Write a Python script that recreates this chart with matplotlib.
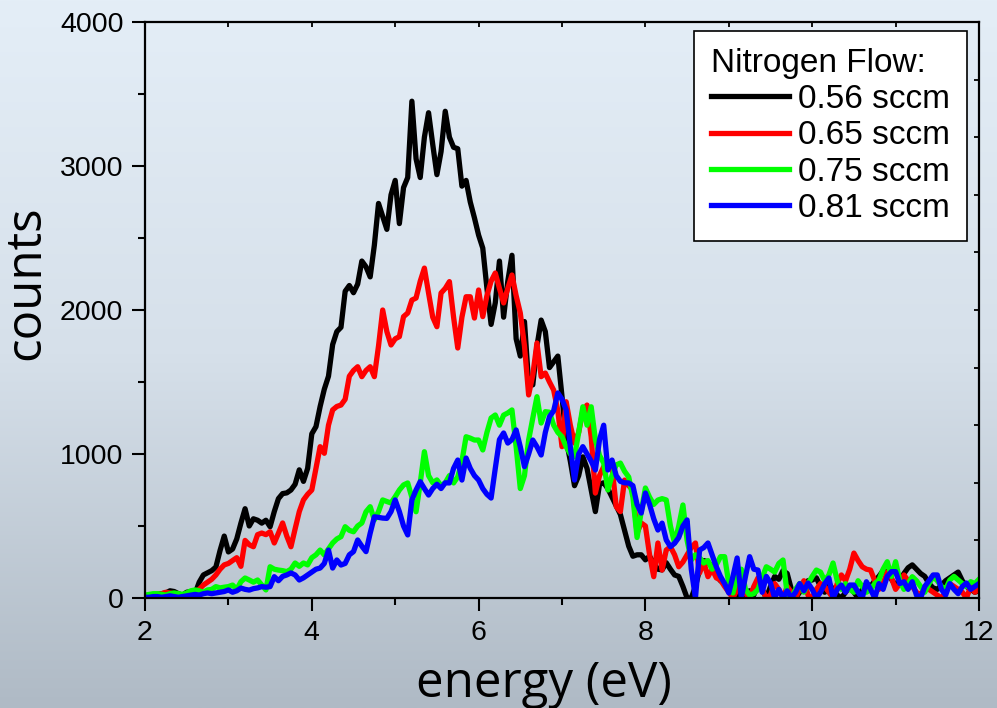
import numpy as np
import matplotlib
matplotlib.use("Agg")
import matplotlib.pyplot as plt
from matplotlib.colors import LinearSegmentedColormap

# energy grid of the spectrum (eV)
energy = np.linspace(2, 12, 201)

# counts, one value per 0.05 eV
counts_056 = [
    10, 15, 20, 25, 30, 35, 50, 45, 30, 20,
    40, 45, 30, 110, 160, 175, 190, 215, 330, 430,
    320, 340, 410, 520, 620, 500, 550, 540, 520, 540,
    495, 600, 690, 725, 730, 750, 790, 890, 810, 900,
    1140, 1190, 1330, 1450, 1540, 1760, 1850, 1880, 2130, 2170,
    2120, 2180, 2340, 2300, 2230, 2450, 2740, 2650, 2560, 2800,
    2900, 2600, 2850, 2920, 3450, 3050, 2920, 3200, 3370, 3150,
    2940, 3100, 3380, 3200, 3130, 3120, 2860, 2900, 2750, 2640,
    2520, 2430, 2150, 1900, 2050, 2340, 1950, 2200, 2380, 1800,
    1680, 1920, 1490, 1480, 1750, 1930, 1850, 1600, 1640, 1680,
    1400, 1100, 950, 780, 850, 980, 900, 750, 600, 790,
    800, 760, 700, 640, 580, 470, 360, 290, 300, 300,
    265, 290, 240, 200, 195, 245, 200, 160, 150, 80,
    0, 0, 80, 200, 260, 250, 215, 160, 120, 100,
    80, 40, 20, 60, 0, 50, 20, 100, 60, 0,
    80, 150, 130, 190, 170, 60, 0, 40, 80, 120,
    125, 140, 80, 40, 100, 60, 20, 0, 40, 80,
    40, 0, 60, 100, 80, 120, 150, 190, 180, 130,
    90, 120, 170, 210, 230, 200, 170, 150, 100, 70,
    60, 90, 120, 140, 160, 180, 120, 80, 60, 40,
    50]

counts_065 = [
    5, 10, 15, 20, 30, 40, 35, 30, 25, 20,
    25, 35, 45, 60, 90, 110, 130, 160, 200, 230,
    240, 260, 280, 220, 400, 370, 356, 440, 451, 440,
    460, 382, 450, 521, 430, 356, 480, 600, 681, 720,
    750, 900, 1051, 1005, 1200, 1306, 1330, 1340, 1380, 1540,
    1580, 1606, 1537, 1580, 1606, 1537, 1750, 2000, 1850, 1757,
    1800, 1815, 1954, 1979, 2069, 2083, 2200, 2291, 2118, 1950,
    1884, 2118, 2150, 2197, 1950, 1736, 1950, 2092, 2092, 1944,
    2139, 1954, 2100, 2200, 2257, 2150, 2049, 2150, 2243, 2100,
    1979, 1750, 1410, 1550, 1771, 1537, 1562, 1500, 1444, 1300,
    1051, 1363, 1200, 1076, 1150, 1300, 1340, 1120, 729, 850,
    912, 900, 912, 634, 600, 819, 780, 750, 451, 521,
    500, 300, 148, 382, 194, 333, 356, 300, 217, 250,
    300, 350, 382, 174, 250, 148, 200, 140, 125, 80,
    40, 0, 60, 100, 30, 0, 80, 140, 60, 0,
    20, 100, 60, 0, 80, 40, 0, 60, 120, 20,
    0, 60, 100, 80, 40, 0, 100, 160, 120, 200,
    312, 260, 217, 200, 194, 120, 60, 100, 180, 140,
    60, 100, 160, 120, 80, 40, 20, 80, 60, 40,
    20, 0, 40, 100, 80, 60, 40, 0, 80, 40,
    60]

counts_075 = [
    20, 25, 30, 30, 25, 20, 30, 35, 30, 25,
    35, 50, 56, 50, 40, 56, 60, 79, 70, 75,
    79, 90, 60, 113, 139, 125, 110, 125, 90, 56,
    217, 200, 194, 190, 183, 200, 243, 220, 243, 230,
    280, 300, 333, 299, 340, 382, 410, 426, 495, 470,
    460, 500, 521, 599, 634, 542, 600, 681, 670, 660,
    703, 750, 785, 799, 700, 599, 799, 1016, 850, 800,
    820, 780, 800, 850, 799, 842, 950, 1120, 1110, 1097,
    1097, 1028, 1150, 1250, 1271, 1200, 1270, 1285, 1306, 1050,
    760, 850, 1097, 1250, 1398, 1215, 1294, 1290, 1200, 1150,
    1120, 1050, 1000, 981, 1150, 1328, 1200, 1328, 1100, 990,
    937, 750, 850, 924, 937, 880, 840, 700, 420, 600,
    764, 700, 650, 680, 690, 681, 500, 382, 500, 646,
    400, 264, 300, 280, 243, 260, 200, 230, 287, 287,
    100, 35, 150, 200, 60, 20, 30, 60, 140, 217,
    200, 180, 240, 264, 30, 0, 60, 101, 40, 100,
    150, 194, 180, 120, 160, 243, 120, 60, 100, 60,
    40, 120, 80, 40, 60, 100, 125, 200, 252, 150,
    252, 120, 60, 100, 148, 120, 80, 40, 100, 148,
    120, 80, 60, 125, 150, 125, 100, 80, 113, 100,
    130]

counts_081 = [
    5, 5, 10, 10, 5, 10, 15, 10, 5, 10,
    15, 20, 25, 20, 30, 35, 30, 35, 40, 45,
    56, 40, 50, 69, 60, 55, 65, 70, 79, 75,
    79, 148, 120, 150, 160, 174, 160, 125, 140, 160,
    180, 200, 208, 240, 333, 208, 264, 229, 240, 300,
    322, 403, 360, 322, 450, 564, 560, 555, 553, 600,
    681, 600, 500, 438, 681, 750, 808, 760, 715, 760,
    790, 760, 800, 799, 900, 958, 819, 972, 900, 850,
    819, 760, 720, 694, 900, 1100, 1146, 1076, 1100, 1167,
    1050, 912, 1000, 1097, 1050, 993, 1150, 1259, 1300, 1424,
    1380, 1306, 1050, 819, 1000, 1051, 1000, 950, 889, 1100,
    1200, 889, 958, 850, 810, 800, 799, 780, 650, 590,
    729, 650, 550, 472, 520, 403, 356, 380, 420, 500,
    542, 200, 0, 333, 350, 382, 300, 217, 150, 100,
    35, 150, 278, 0, 150, 287, 200, 194, 40, 150,
    104, 0, 60, 0, 50, 0, 40, 100, 50, 104,
    60, 0, 40, 100, 139, 0, 60, 90, 40, 90,
    90, 40, 0, 113, 60, 0, 100, 60, 150, 183,
    183, 100, 113, 60, 113, 20, 0, 80, 120, 160,
    160, 60, 20, 100, 60, 30, 80, 104, 60, 80,
    100]

labels = ["0.56 sccm", "0.65 sccm", "0.75 sccm", "0.81 sccm"]
colors = ["#000000", "#ff0000", "#00ff00", "#0000ff"]
series = [counts_056, counts_065, counts_075, counts_081]

W, H = 997, 708
fig = plt.figure(figsize=(W / 100, H / 100), dpi=100)

# gradient background of the slide
bg = fig.add_axes([0, 0, 1, 1], zorder=-10)
cmap = LinearSegmentedColormap.from_list(
    "slide", [(0.0, "#e4eef7"), (0.5, "#d6e0ea"), (1.0, "#afbac5")])
grad = np.linspace(0, 1, 256).reshape(-1, 1)
bg.imshow(grad, aspect="auto", cmap=cmap, extent=[0, 1, 0, 1])
bg.axis("off")

left, right, top, bottom = 145, 979, 22, 598
ax = fig.add_axes([left / W, 1 - bottom / H, (right - left) / W, (bottom - top) / H])
ax.patch.set_alpha(0)

for y, c, lab in zip(series, colors, labels):
    ax.plot(energy, y, color=c, lw=3.8, label=lab)

ax.set_xlim(2, 12)
ax.set_ylim(0, 4000)
ax.set_xticks([2, 4, 6, 8, 10, 12])
ax.set_xticks([3, 5, 7, 9, 11], minor=True)
ax.set_yticks([0, 1000, 2000, 3000, 4000])
ax.set_yticks([500, 1500, 2500, 3500], minor=True)

tick_font = "Liberation Sans"
for lab in ax.get_xticklabels() + ax.get_yticklabels():
    lab.set_fontfamily(tick_font)
ax.tick_params(which="major", direction="out", length=9.5, width=1.5,
               labelsize=20.5, pad=6, top=False, right=False)
ax.tick_params(which="minor", direction="out", length=5, width=1.5,
               top=False, right=False)
for s in ax.spines.values():
    s.set_linewidth(1.6)

# small inward ticks on the top and right frame
axt = ax.twiny()
axt.set_xlim(2, 12)
axt.set_xticks(np.arange(2, 13, 1))
axt.tick_params(direction="in", length=3.5, width=1.3, labeltop=False)
axr = ax.twinx()
axr.set_ylim(0, 4000)
axr.set_yticks(np.arange(0, 4001, 400))
axr.tick_params(direction="in", length=3.5, width=1.3, labelright=False)
for a in (axt, axr):
    for s in a.spines.values():
        s.set_visible(False)

ax.set_xlabel("energy (eV)", fontsize=35.5, fontfamily="Open Sans")
ax.xaxis.label.set_va("baseline")
ax.xaxis.set_label_coords((544 - left) / (right - left), (bottom - 697) / (bottom - top))
ax.set_ylabel("counts", fontsize=35.5, fontfamily="Open Sans")
ax.yaxis.label.set_va("center")
ax.yaxis.set_label_coords((27 - left) / (right - left), (bottom - 283) / (bottom - top))

leg = ax.legend(title="Nitrogen Flow:", loc="upper right",
                bbox_to_anchor=(967 / W, 1 - 31 / H), bbox_transform=fig.transFigure,
                prop={"family": tick_font, "size": 24},
                title_fontproperties={"family": tick_font, "size": 24},
                alignment="left", frameon=True, fancybox=False, framealpha=1,
                edgecolor="black", handlelength=2.35, handletextpad=0.27,
                labelspacing=0.16, borderpad=0.5, borderaxespad=0)
leg.get_frame().set_linewidth(1.2)
leg.set_zorder(20)
axr.set_zorder(ax.get_zorder() - 1)
axt.set_zorder(ax.get_zorder() - 1)

fig.savefig("out.png", dpi=100)
